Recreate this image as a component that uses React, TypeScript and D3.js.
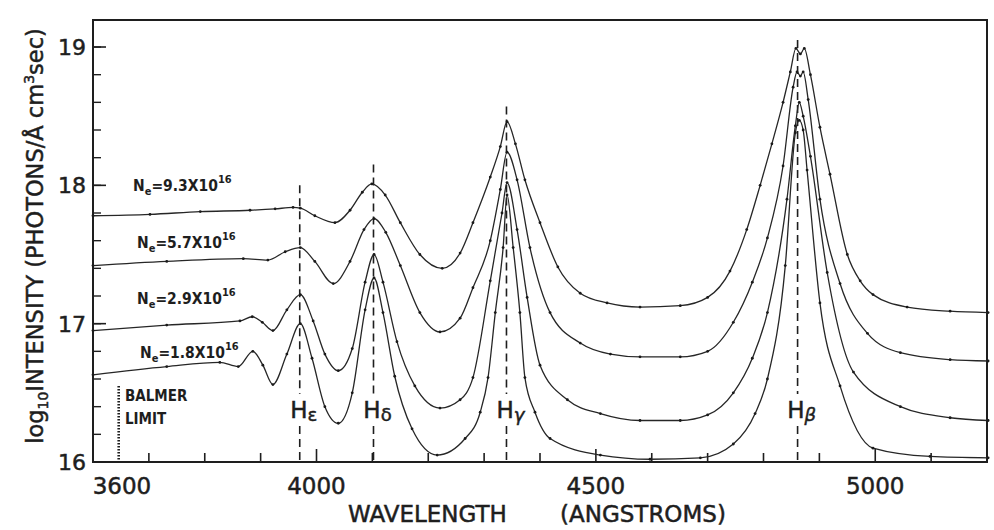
import React from 'react';
import * as d3 from 'd3';

// ---- data (wavelength in Å, log10 intensity) ----
const seriesNames = ['9.3', '5.7', '2.9', '1.8'];

const ne93: [number, number][] = [
  [3600, 17.78], [3702, 17.79], [3792, 17.81], [3881, 17.82], [3926, 17.83], [3958, 17.84],
  [3971, 17.835], [3997, 17.78], [4033, 17.73], [4060, 17.82], [4082, 17.95], [4099, 18.01],
  [4123, 17.93], [4150, 17.73], [4185, 17.5], [4225, 17.4], [4257, 17.51], [4280, 17.73],
  [4311, 18.06], [4329, 18.28], [4341, 18.46], [4356, 18.3], [4373, 18.04], [4400, 17.73],
  [4432, 17.41], [4472, 17.22], [4520, 17.15], [4579, 17.12], [4651, 17.13], [4700, 17.19],
  [4740, 17.38], [4770, 17.68], [4794, 18.0], [4815, 18.3], [4835, 18.6], [4848, 18.82],
  [4858, 18.99], [4866, 18.95], [4873, 18.99], [4884, 18.8], [4901, 18.42], [4919, 18.08],
  [4950, 17.5], [4973, 17.31], [4996, 17.21], [5057, 17.12], [5134, 17.09], [5202, 17.08],
];

const ne57: [number, number][] = [
  [3600, 17.42], [3732, 17.45], [3869, 17.47], [3913, 17.46], [3944, 17.52], [3971, 17.55],
  [3997, 17.45], [4030, 17.29], [4060, 17.45], [4085, 17.68], [4103, 17.76], [4124, 17.66],
  [4150, 17.42], [4185, 17.08], [4221, 16.94], [4257, 17.04], [4280, 17.26], [4311, 17.6],
  [4329, 17.97], [4341, 18.24], [4359, 18.04], [4382, 17.55], [4418, 17.08], [4472, 16.86],
  [4526, 16.78], [4579, 16.76], [4651, 16.76], [4700, 16.8], [4746, 17.01], [4780, 17.3],
  [4807, 17.62], [4835, 18.14], [4853, 18.71], [4860, 18.82], [4866, 18.79], [4871, 18.82],
  [4880, 18.62], [4901, 17.9], [4937, 17.29], [4986, 16.93], [5045, 16.79], [5134, 16.74],
  [5202, 16.73],
];

const ne29: [number, number][] = [
  [3600, 16.95], [3732, 16.99], [3863, 17.02], [3885, 17.05], [3903, 17.01], [3922, 16.95],
  [3947, 17.1], [3971, 17.21], [3994, 17.02], [4015, 16.78], [4039, 16.66], [4064, 16.82],
  [4087, 17.3], [4103, 17.5], [4119, 17.3], [4144, 16.87], [4176, 16.55], [4221, 16.39],
  [4257, 16.45], [4280, 16.61], [4311, 17.31], [4332, 17.8], [4341, 18.02], [4359, 17.68],
  [4377, 17.19], [4400, 16.7], [4449, 16.45], [4508, 16.35], [4579, 16.3], [4651, 16.3],
  [4700, 16.34], [4746, 16.5], [4780, 16.75], [4807, 17.08], [4842, 17.9], [4857, 18.43],
  [4864, 18.6], [4871, 18.5], [4884, 18.21], [4914, 17.37], [4961, 16.65], [5045, 16.4],
  [5134, 16.32], [5202, 16.3],
];

const ne18: [number, number][] = [
  [3600, 16.63], [3732, 16.69], [3827, 16.72], [3860, 16.69], [3886, 16.8], [3904, 16.7],
  [3922, 16.56], [3947, 16.78], [3971, 17.0], [3992, 16.75], [4015, 16.4], [4039, 16.28],
  [4064, 16.5], [4087, 17.1], [4103, 17.33], [4119, 17.08], [4140, 16.62], [4171, 16.24],
  [4216, 16.05], [4266, 16.17], [4293, 16.36], [4307, 16.61], [4320, 17.08], [4334, 17.55],
  [4341, 17.93], [4352, 17.55], [4364, 17.08], [4373, 16.61], [4391, 16.36], [4418, 16.17],
  [4508, 16.05], [4597, 16.02], [4687, 16.03], [4746, 16.13], [4785, 16.35], [4807, 16.6],
  [4839, 17.42], [4857, 18.38], [4864, 18.47], [4871, 18.4], [4878, 18.11], [4901, 17.15],
  [4937, 16.55], [4996, 16.1], [5098, 16.04], [5202, 16.03],
];

const allSeries = [ne93, ne57, ne29, ne18];

const lineNames = ['ε', 'δ', 'γ', 'β'];
const lineWavelengths = [3970, 4102, 4340, 4861];
const lineTops = [18.0, 18.15, 18.57, 19.05];

const xTickValues = d3.range(3700, 5201, 100);
const xMajorTicks = [4000, 4500, 5000];
const xTickLabels = [3600, 4000, 4500, 5000];
const yTickLabels = [16, 17, 18, 19];
const yMinorTicks = d3.range(16.2, 19.01, 0.2);
const balmerLimit = 3646;

// ---- layout ----
const W = 994;
const H = 530;
const L = 93, R = 987, T = 20, B = 462;

const x = d3.scaleLinear().domain([3600, 5200]).range([L, R]);
const y = d3.scaleLinear().domain([16, 19.2]).range([B, B - 3.2 * 138.33]);

const lineGen = d3
  .line<[number, number]>()
  .x((d) => x(d[0]))
  .y((d) => y(d[1]))
  .curve(d3.curveMonotoneX);

const ink = '#1e1e1e';
const mainFont = '"DejaVu Sans", "Liberation Sans", sans-serif';
const condFont = '"DejaVu Sans Condensed", "Liberation Sans Narrow", "DejaVu Sans", sans-serif';

const labelY = [191, 248, 304, 358];
const labelX = [133, 137, 137, 140];

const heavy = { stroke: ink, strokeWidth: 0.5 };

export default function App() {
  return (
    <svg
      width={W}
      height={H}
      viewBox={`0 0 ${W} ${H}`}
      style={{ position: 'absolute', left: 0, top: 0, background: '#fff' }}
    >
      <rect x={0} y={0} width={W} height={H} fill="#fff" />

      {/* frame */}
      <rect x={L} y={T} width={R - L} height={B - T} fill="none" stroke={ink} strokeWidth={2} />

      {/* x ticks */}
      {xTickValues.map((v) => (
        <line
          key={'xt' + v}
          x1={x(v)}
          x2={x(v)}
          y1={B}
          y2={B - (xMajorTicks.includes(v) ? 13 : 9)}
          stroke={ink}
          strokeWidth={1.6}
        />
      ))}
      {xTickLabels.map((v, i) => (
        <text
          key={'xl' + v}
          x={i === 0 ? x(v) + 29 : x(v)}
          y={494}
          textAnchor="middle"
          fontFamily={mainFont}
          fontSize={23}
          fill={ink}
          {...heavy}
        >
          {v}
        </text>
      ))}

      {/* y ticks */}
      {yMinorTicks.map((v) => (
        <line
          key={'ym' + v.toFixed(1)}
          x1={L}
          x2={L + 8}
          y1={y(v)}
          y2={y(v)}
          stroke={ink}
          strokeWidth={1.4}
        />
      ))}
      {yTickLabels.map((v) => (
        <g key={'yl' + v}>
          <line x1={L} x2={L + 13} y1={y(v)} y2={y(v)} stroke={ink} strokeWidth={1.6} />
          <text
            x={72}
            y={y(v) + 8}
            textAnchor="middle"
            fontFamily={mainFont}
            fontSize={22}
            fill={ink}
            {...heavy}
          >
            {v}
          </text>
        </g>
      ))}

      {/* axis titles */}
      <text x={348} y={522} fontFamily={mainFont} fontSize={23} fill={ink} {...heavy}>
        WAVELENGTH
      </text>
      <text x={560} y={522} fontFamily={mainFont} fontSize={23} fill={ink} {...heavy}>
        (ANGSTROMS)
      </text>
      <text
        transform={`translate(43, 236) rotate(-90)`}
        textAnchor="middle"
        fontFamily={mainFont}
        fontSize={22.5}
        fill={ink}
        {...heavy}
      >
        log
        <tspan fontSize={14} dy={5}>10</tspan>
        <tspan dy={-5}>INTENSITY (PHOTONS/Å cm</tspan>
        <tspan fontSize={14} dy={-9}>3</tspan>
        <tspan dy={9}>sec)</tspan>
      </text>

      {/* Balmer limit */}
      <line
        x1={x(balmerLimit)}
        x2={x(balmerLimit)}
        y1={386}
        y2={B}
        stroke={ink}
        strokeWidth={2.6}
        strokeDasharray="1.6 1.4"
      />
      <text x={125} y={401} fontFamily={condFont} fontSize={15} fontWeight="bold" fill={ink}>
        BALMER
      </text>
      <text x={125} y={424} fontFamily={condFont} fontSize={15} fontWeight="bold" fill={ink}>
        LIMIT
      </text>

      {/* hydrogen line markers */}
      {lineWavelengths.map((lw, i) => {
        const lx = x(lw);
        return (
          <g key={'hl' + i}>
            <line
              x1={lx}
              x2={lx}
              y1={y(lineTops[i])}
              y2={394}
              stroke={ink}
              strokeWidth={1.6}
              strokeDasharray="8 5"
            />
            <line
              x1={lx}
              x2={lx}
              y1={426}
              y2={B}
              stroke={ink}
              strokeWidth={1.6}
              strokeDasharray="8 5"
            />
            <text
              x={lx + 4}
              y={418}
              textAnchor="middle"
              fontFamily={mainFont}
              fontSize={23}
              fill={ink}
              {...heavy}
            >
              H
              <tspan fontSize={18} dy={3} fontStyle={i >= 2 ? 'italic' : 'normal'}>
                {lineNames[i]}
              </tspan>
            </text>
          </g>
        );
      })}

      {/* curves */}
      {allSeries.map((s, i) => (
        <g key={'s' + i}>
          <path d={lineGen(s) || ''} fill="none" stroke="#262626" strokeWidth={1.3} />
          {s.map((d, j) => (
            <circle key={j} cx={x(d[0])} cy={y(d[1])} r={1.4} fill="#1a1a1a" />
          ))}
        </g>
      ))}

      {/* density labels */}
      {seriesNames.map((n, i) => (
        <text
          key={'nl' + i}
          x={labelX[i]}
          y={labelY[i]}
          fontFamily={condFont}
          fontSize={15.5}
          fontWeight="bold"
          fill={ink}
        >
          N
          <tspan fontSize={11} dy={4}>e</tspan>
          <tspan dy={-4}>{`=${n}X10`}</tspan>
          <tspan fontSize={11} dy={-8}>16</tspan>
        </text>
      ))}
    </svg>
  );
}
